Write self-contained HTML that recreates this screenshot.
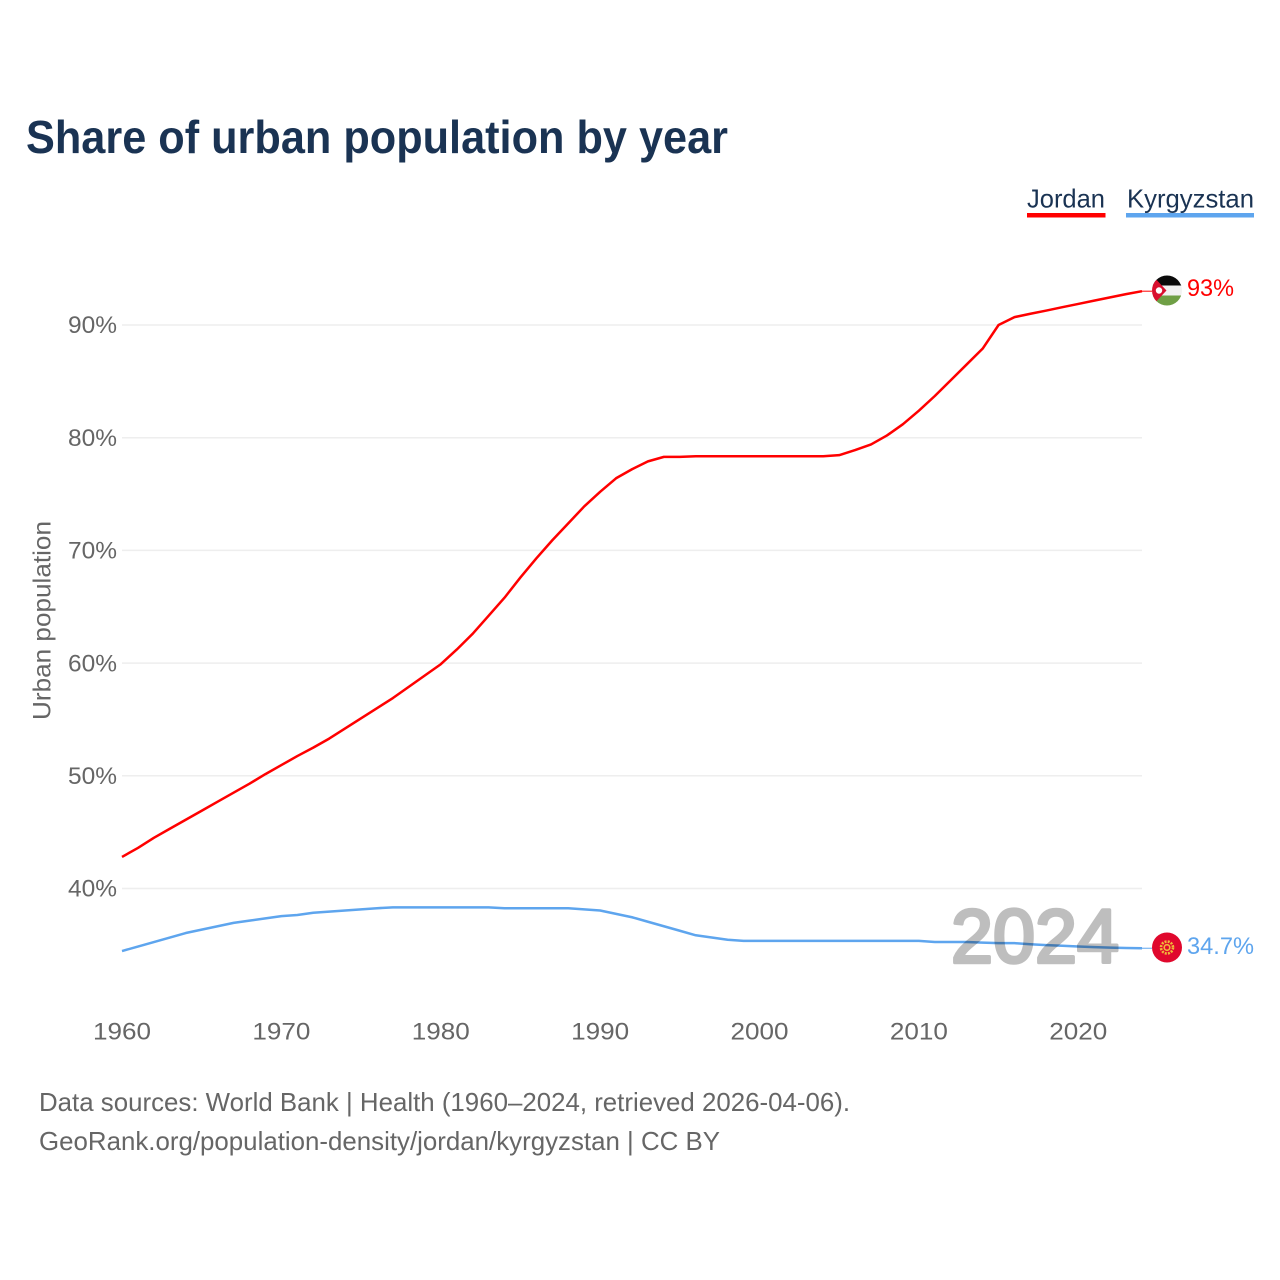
<!DOCTYPE html>
<html lang="en">
<head>
<meta charset="utf-8">
<title>Share of urban population by year</title>
<style>
html,body{margin:0;padding:0;background:#fff;}
svg{display:block;font-family:"Liberation Sans",sans-serif;}
</style>
</head>
<body>
<svg id="chart" xmlns="http://www.w3.org/2000/svg" width="1280" height="1280" viewBox="0 0 1280 1280">
  <defs>
    <clipPath id="flag-clip-jordan"><circle cx="1167" cy="290.5" r="15"></circle></clipPath>
  </defs>
  <rect x="0" y="0" width="1280" height="1280" fill="#fff"></rect>
  <text x="26" y="153" font-size="46" font-weight="bold" fill="#1a3353" textLength="702" lengthAdjust="spacingAndGlyphs">Share of urban population by year</text>

  <g>
    <g>
      <text x="1027" y="207.5" font-size="26" fill="#1a3353" textLength="78" lengthAdjust="spacingAndGlyphs">Jordan</text>
      <rect x="1027" y="213" width="78.5" height="4.5" fill="#ff0000"></rect>
    </g>
    <g>
      <text x="1127" y="207.5" font-size="26" fill="#1a3353" textLength="127" lengthAdjust="spacingAndGlyphs">Kyrgyzstan</text>
      <rect x="1126" y="213" width="128" height="4.5" fill="#5ea5ee"></rect>
    </g>
  </g>

  <g id="grid"></g>
  <g id="y-ticks"></g>
  <g id="x-ticks"></g>
  <text transform="translate(50.5,620.5) rotate(-90)" text-anchor="middle" font-size="25" fill="#666" textLength="199" lengthAdjust="spacingAndGlyphs">Urban population</text>

  <g id="series"></g>

  <text x="951" y="962.5" font-size="76" fill="#000" stroke="#000" stroke-width="3.5" stroke-linejoin="round" opacity="0.25" textLength="168" lengthAdjust="spacingAndGlyphs">2024</text>

  <g id="flag-jordan">
    <g clip-path="url(#flag-clip-jordan)">
      <rect x="1150" y="275" width="34" height="11" fill="#0b0b0b"></rect>
      <rect x="1150" y="285.5" width="34" height="10" fill="#f2f2f2"></rect>
      <rect x="1150" y="295.5" width="34" height="11" fill="#6f9f45"></rect>
      <polygon points="1152,275 1166.5,290.5 1152,306" fill="#d90f2e"></polygon>
      <circle cx="1159" cy="290.5" r="3.2" fill="#fff"></circle>
    </g>
  </g>
  <g id="flag-kyrgyzstan">
    <circle cx="1167" cy="947.5" r="15" fill="#e0082d"></circle>
    <circle cx="1167" cy="947.5" r="6" fill="none" stroke="#f0b93a" stroke-width="2.6" stroke-dasharray="2 1.2"></circle>
    <circle cx="1167" cy="947.5" r="2.8" fill="none" stroke="#f0b93a" stroke-width="1.6"></circle>
  </g>

  <text id="end-label-jordan" x="1187" y="296" font-size="24.5" fill="#ff0000" textLength="47" lengthAdjust="spacingAndGlyphs">93%</text>
  <text id="end-label-kyrgyzstan" x="1187" y="954" font-size="24.5" fill="#5ea5ee" textLength="67" lengthAdjust="spacingAndGlyphs">34.7%</text>

  <g>
    <text x="39" y="1111" font-size="26" fill="#666" textLength="811" lengthAdjust="spacingAndGlyphs">Data sources: World Bank | Health (1960–2024, retrieved 2026-04-06).</text>
    <text x="39" y="1150" font-size="26" fill="#666" textLength="681" lengthAdjust="spacingAndGlyphs">GeoRank.org/population-density/jordan/kyrgyzstan | CC BY</text>
  </g>
</svg>
<script>
const years = [];
for (let y = 1960; y <= 2024; y++) years.push(y);
const jordanValues = [
  42.8, 43.6, 44.5, 45.3, 46.1, 46.9, 47.7, 48.5, 49.3, 50.15,
  50.95, 51.75, 52.5, 53.3, 54.2, 55.1, 56.0, 56.9, 57.9, 58.9,
  59.9, 61.2, 62.6, 64.2, 65.8, 67.6, 69.3, 70.9, 72.4, 73.9,
  75.2, 76.4, 77.2, 77.9, 78.3, 78.3, 78.35, 78.35, 78.35, 78.35,
  78.35, 78.35, 78.35, 78.35, 78.35, 78.45, 78.9, 79.4, 80.2, 81.2,
  82.4, 83.7, 85.1, 86.5, 87.9, 90.0, 90.7, 91.0, 91.28, 91.58,
  91.87, 92.16, 92.45, 92.74, 93.0
];
const kyrgyzstanValues = [
  34.45, 34.85, 35.25, 35.65, 36.05, 36.35, 36.65, 36.95, 37.15, 37.35,
  37.55, 37.65, 37.85, 37.95, 38.05, 38.15, 38.25, 38.33, 38.33, 38.33,
  38.33, 38.33, 38.33, 38.33, 38.25, 38.25, 38.25, 38.25, 38.25, 38.15,
  38.05, 37.75, 37.45, 37.05, 36.65, 36.25, 35.85, 35.65, 35.45, 35.35,
  35.35, 35.35, 35.35, 35.35, 35.35, 35.35, 35.35, 35.35, 35.35, 35.35,
  35.35, 35.25, 35.25, 35.25, 35.2, 35.15, 35.15, 35.05, 34.98, 34.92,
  34.85, 34.8, 34.75, 34.72, 34.7
];
const yTickValues = [40, 50, 60, 70, 80, 90];
const xTickValues = [1960, 1970, 1980, 1990, 2000, 2010, 2020];

const NS = 'http://www.w3.org/2000/svg';
const xScale = function (year) { return 122 + (year - 1960) * (1142 - 122) / 64; };
const yScale = function (pct) { return 888.5 - (pct - 40) * (888.5 - 325) / 50; };
const make = function (tag, parent) {
  const el = document.createElementNS(NS, tag);
  parent.appendChild(el);
  return el;
};

const grid = document.getElementById('grid');
const yTicks = document.getElementById('y-ticks');
yTickValues.forEach(function (v) {
  const line = make('line', grid);
  
  
  line.setAttribute('x1', 122);
  line.setAttribute('x2', 1142);
  line.setAttribute('y1', yScale(v));
  line.setAttribute('y2', yScale(v));
  line.setAttribute('stroke', '#eeeeee');
  line.setAttribute('stroke-width', '1.5');
  const label = make('text', yTicks);
  
  
  label.setAttribute('x', 68);
  label.setAttribute('y', yScale(v) + 8.2);
  label.setAttribute('font-size', '24');
  label.setAttribute('fill', '#666');
  label.setAttribute('textLength', '49');
  label.setAttribute('lengthAdjust', 'spacingAndGlyphs');
  label.textContent = v + '%';
});

const xTicks = document.getElementById('x-ticks');
xTickValues.forEach(function (v) {
  const label = make('text', xTicks);
  
  
  label.setAttribute('x', xScale(v) - 29);
  label.setAttribute('y', 1039.5);
  label.setAttribute('font-size', '24');
  label.setAttribute('fill', '#666');
  label.setAttribute('textLength', '58');
  label.setAttribute('lengthAdjust', 'spacingAndGlyphs');
  label.textContent = String(v);
});

const seriesGroup = document.getElementById('series');
const drawSeries = function (values, color, name) {
  const last = values[values.length - 1];
  const leader = make('line', seriesGroup);
  
  
  leader.setAttribute('x1', xScale(2024));
  leader.setAttribute('x2', 1152);
  leader.setAttribute('y1', yScale(last));
  leader.setAttribute('y2', yScale(last));
  leader.setAttribute('stroke', color);
  leader.setAttribute('stroke-width', '1');
  const path = make('polyline', seriesGroup);
  
  
  path.setAttribute('points', values.map(function (v, i) {
    return xScale(years[i]).toFixed(2) + ',' + yScale(v).toFixed(2);
  }).join(' '));
  path.setAttribute('fill', 'none');
  path.setAttribute('stroke', color);
  path.setAttribute('stroke-width', '2.5');
  path.setAttribute('stroke-linejoin', 'round');
};
drawSeries(jordanValues, '#ff0000', 'jordan');
drawSeries(kyrgyzstanValues, '#5ea5ee', 'kyrgyzstan');
</script>
</body>
</html>
